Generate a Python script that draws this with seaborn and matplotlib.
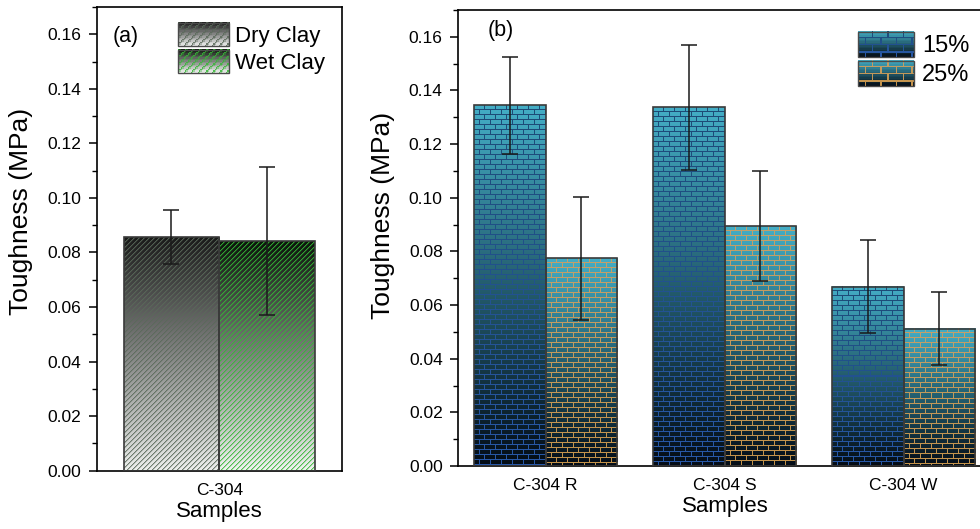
import numpy as np
import pandas as pd
import matplotlib
matplotlib.use("Agg")
import matplotlib.pyplot as plt
import seaborn as sns
from matplotlib.colors import to_rgb
from matplotlib.legend_handler import HandlerBase
from matplotlib.image import BboxImage
from matplotlib.transforms import Bbox, TransformedBbox
from matplotlib.patches import Rectangle
from matplotlib.ticker import MultipleLocator, FormatStrFormatter

# ---------------- data ----------------
a_samples = ["C-304", "C-304"]
a_conditions = ["Dry Clay", "Wet Clay"]
a_toughness = [0.0857, 0.0842]
a_error = [0.0099, 0.0273]

b_samples = ["C-304 R", "C-304 S", "C-304 W"]
b_levels = ["15%", "25%"]
b_toughness_15 = [0.1345, 0.1338, 0.0669]
b_toughness_25 = [0.0774, 0.0893, 0.0512]
b_error_15 = [0.0180, 0.0233, 0.0172]
b_error_25 = [0.0230, 0.0205, 0.0136]

y_ticks = [0.00, 0.02, 0.04, 0.06, 0.08, 0.10, 0.12, 0.14, 0.16]

# ---------------- style ----------------
sns.set_theme(style="ticks")
plt.rcParams["font.family"] = ["Liberation Sans", "DejaVu Sans"]
plt.rcParams["axes.linewidth"] = 1.2
for k in ["text.color", "axes.labelcolor", "xtick.color", "ytick.color", "axes.edgecolor"]:
    plt.rcParams[k] = "black"

fig = plt.figure(figsize=(9.8, 5.29), dpi=100)
axa = fig.add_axes([96.7 / 980, (529 - 470.7) / 529, 245 / 980, 463.7 / 529])
axb = fig.add_axes([458 / 980, (529 - 466) / 529, 535 / 980, 456 / 529])


# ---------------- textures ----------------
def grad(h, w, top, bottom):
    t = np.linspace(0, 1, max(h, 1))[:, None, None]
    top = np.array(to_rgb(top))
    bot = np.array(to_rgb(bottom))
    img = top * (1 - t) + bot * t
    return np.broadcast_to(img, (max(h, 1), max(w, 1), 3)).copy()


def hatch_tex(h, w, top, bottom, line, period=5, alpha=0.85):
    img = grad(h, w, top, bottom)
    i, j = np.mgrid[0:img.shape[0], 0:img.shape[1]]
    d = (i + j) % period
    lc = np.array(to_rgb(line))
    for val, a in ((0, alpha), (1, alpha * 0.45)):
        m = d == val
        img[m] = img[m] * (1 - a) + lc * a
    return img


def brick_tex(h, w, top, bottom, mortar_top, mortar_bot, rowp=5, colp=11):
    img = grad(h, w, top, bottom)
    mort = grad(h, w, mortar_top, mortar_bot)
    i, j = np.mgrid[0:img.shape[0], 0:img.shape[1]]
    row = i // rowp
    hm = (i % rowp) == rowp - 1
    vm = ((j + (row % 2) * (colp // 2)) % colp) == colp - 1
    m = hm | vm
    img[m] = mort[m]
    return img


a_styles = {
    "Dry Clay": dict(top="#1a1a1a", bottom="#eceeec", line="#5a6a5a"),
    "Wet Clay": dict(top="#0a160a", bottom="#f0f2f0", line="#36b836"),
}
b_styles = {
    "15%": dict(top="#44aec6", bottom="#040c16", mortar_top="#1d4b76", mortar_bot="#2858a8"),
    "25%": dict(top="#44aec6", bottom="#040c16", mortar_top="#c4a06a", mortar_bot="#c3924a"),
}


def tex_for(panel, key, h, w):
    if panel == "a":
        return hatch_tex(h, w, **a_styles[key])
    return brick_tex(h, w, **b_styles[key])


class TexHandler(HandlerBase):
    def __init__(self, panel, key):
        super().__init__()
        self.panel = panel
        self.key = key

    def create_artists(self, legend, orig_handle, xdescent, ydescent,
                       width, height, fontsize, trans):
        bb = TransformedBbox(Bbox.from_bounds(-xdescent, -ydescent, width, height), trans)
        pts = bb.get_points()
        w = int(round(abs(pts[1, 0] - pts[0, 0])))
        h = int(round(abs(pts[1, 1] - pts[0, 1])))
        im = BboxImage(bb, interpolation="nearest")
        im.set_data(tex_for(self.panel, self.key, h, w))
        r = Rectangle((-xdescent, -ydescent), width, height, facecolor="none",
                      edgecolor="#4a4a4a", lw=1.0, transform=trans)
        return [im, r]


# ---------------- panel (a) ----------------
df_a = pd.DataFrame({"Sample": a_samples, "Condition": a_conditions, "Toughness": a_toughness})
sns.barplot(data=df_a, x="Sample", y="Toughness", hue="Condition", hue_order=a_conditions,
            width=0.78, errorbar=None, legend=False, ax=axa)
axa.set_xlim(-0.5, 0.5)
axa.set_ylim(0, 0.17)

# ---------------- panel (b) ----------------
df_b = pd.DataFrame({
    "Sample": b_samples * 2,
    "Level": [b_levels[0]] * 3 + [b_levels[1]] * 3,
    "Toughness": b_toughness_15 + b_toughness_25,
})
sns.barplot(data=df_b, x="Sample", y="Toughness", hue="Level", hue_order=b_levels,
            order=b_samples, width=0.8, errorbar=None, legend=False, ax=axb)
axb.set_xlim(-0.49, 2.5)
axb.set_ylim(0, 0.17)


def texture_bars(ax, panel, keys, errors):
    for cont, key, errs in zip(ax.containers, keys, errors):
        for bar, err in zip(cont.patches, errs):
            x0 = bar.get_x()
            w = bar.get_width()
            h = bar.get_height()
            p0 = ax.transData.transform((x0, 0))
            p1 = ax.transData.transform((x0 + w, h))
            wpx = int(round(abs(p1[0] - p0[0])))
            hpx = int(round(abs(p1[1] - p0[1])))
            img = tex_for(panel, key, hpx, wpx)
            ax.imshow(img, extent=(x0, x0 + w, 0, h), aspect="auto",
                      interpolation="nearest", zorder=2)
            bar.set_facecolor("none")
            bar.set_edgecolor("#3a3a3a")
            bar.set_linewidth(1.2)
            bar.set_zorder(3)
            ax.errorbar(x0 + w / 2, h, yerr=err, fmt="none", ecolor="#1a1a1a",
                        elinewidth=1.1, capsize=5.5, capthick=1.1, zorder=4)


texture_bars(axa, "a", a_conditions, [[a_error[0]], [a_error[1]]])
texture_bars(axb, "b", b_levels, [b_error_15, b_error_25])

for ax in (axa, axb):
    ax.set_ylim(0, 0.17)
    ax.set_yticks(y_ticks)
    ax.yaxis.set_major_formatter(FormatStrFormatter("%.2f"))
    ax.yaxis.set_minor_locator(MultipleLocator(0.01))
    ax.tick_params(axis="y", which="major", direction="out", length=6, width=1.1,
                   labelsize=12.5, pad=5, color="black", labelcolor="black")
    ax.tick_params(axis="y", which="minor", direction="out", length=3.5, width=1.0,
                   color="black")
    ax.tick_params(axis="x", length=0, labelsize=12.5, pad=9, labelcolor="black")
    ax.set_ylabel("Toughness (MPa)", fontsize=19, color="black")
    ax.set_xlabel("Samples", fontsize=16, labelpad=2, color="black")
    for s in ax.spines.values():
        s.set_visible(True)
        s.set_color("black")
        s.set_linewidth(1.2)

axa.set_xlim(-0.5, 0.5)
axb.set_xlim(-0.49, 2.5)
axa.yaxis.set_label_coords(-0.262, 0.56)
axb.yaxis.set_label_coords(-0.117, 0.55)

axa.text(0.065, 0.937, "(a)", transform=axa.transAxes, fontsize=15.5, va="center", ha="left")
axb.text(0.055, 0.955, "(b)", transform=axb.transAxes, fontsize=15.5, va="center", ha="left")

# legends
ha_handles = [Rectangle((0, 0), 1, 1) for _ in a_conditions]
axa.legend(ha_handles, a_conditions,
           handler_map={h: TexHandler("a", k) for h, k in zip(ha_handles, a_conditions)},
           loc="upper left", bbox_to_anchor=(0.332, 0.965), frameon=False,
           fontsize=16, handlelength=2.3, handleheight=1.22, labelspacing=0.14,
           handletextpad=0.27, borderpad=0, borderaxespad=0)

hb_handles = [Rectangle((0, 0), 1, 1) for _ in b_levels]
axb.legend(hb_handles, b_levels,
           handler_map={h: TexHandler("b", k) for h, k in zip(hb_handles, b_levels)},
           loc="upper left", bbox_to_anchor=(0.748, 0.952), frameon=False,
           fontsize=17, handlelength=2.37, handleheight=1.27, labelspacing=0.13,
           handletextpad=0.34, borderpad=0, borderaxespad=0)

fig.savefig("out.png", dpi=100)
